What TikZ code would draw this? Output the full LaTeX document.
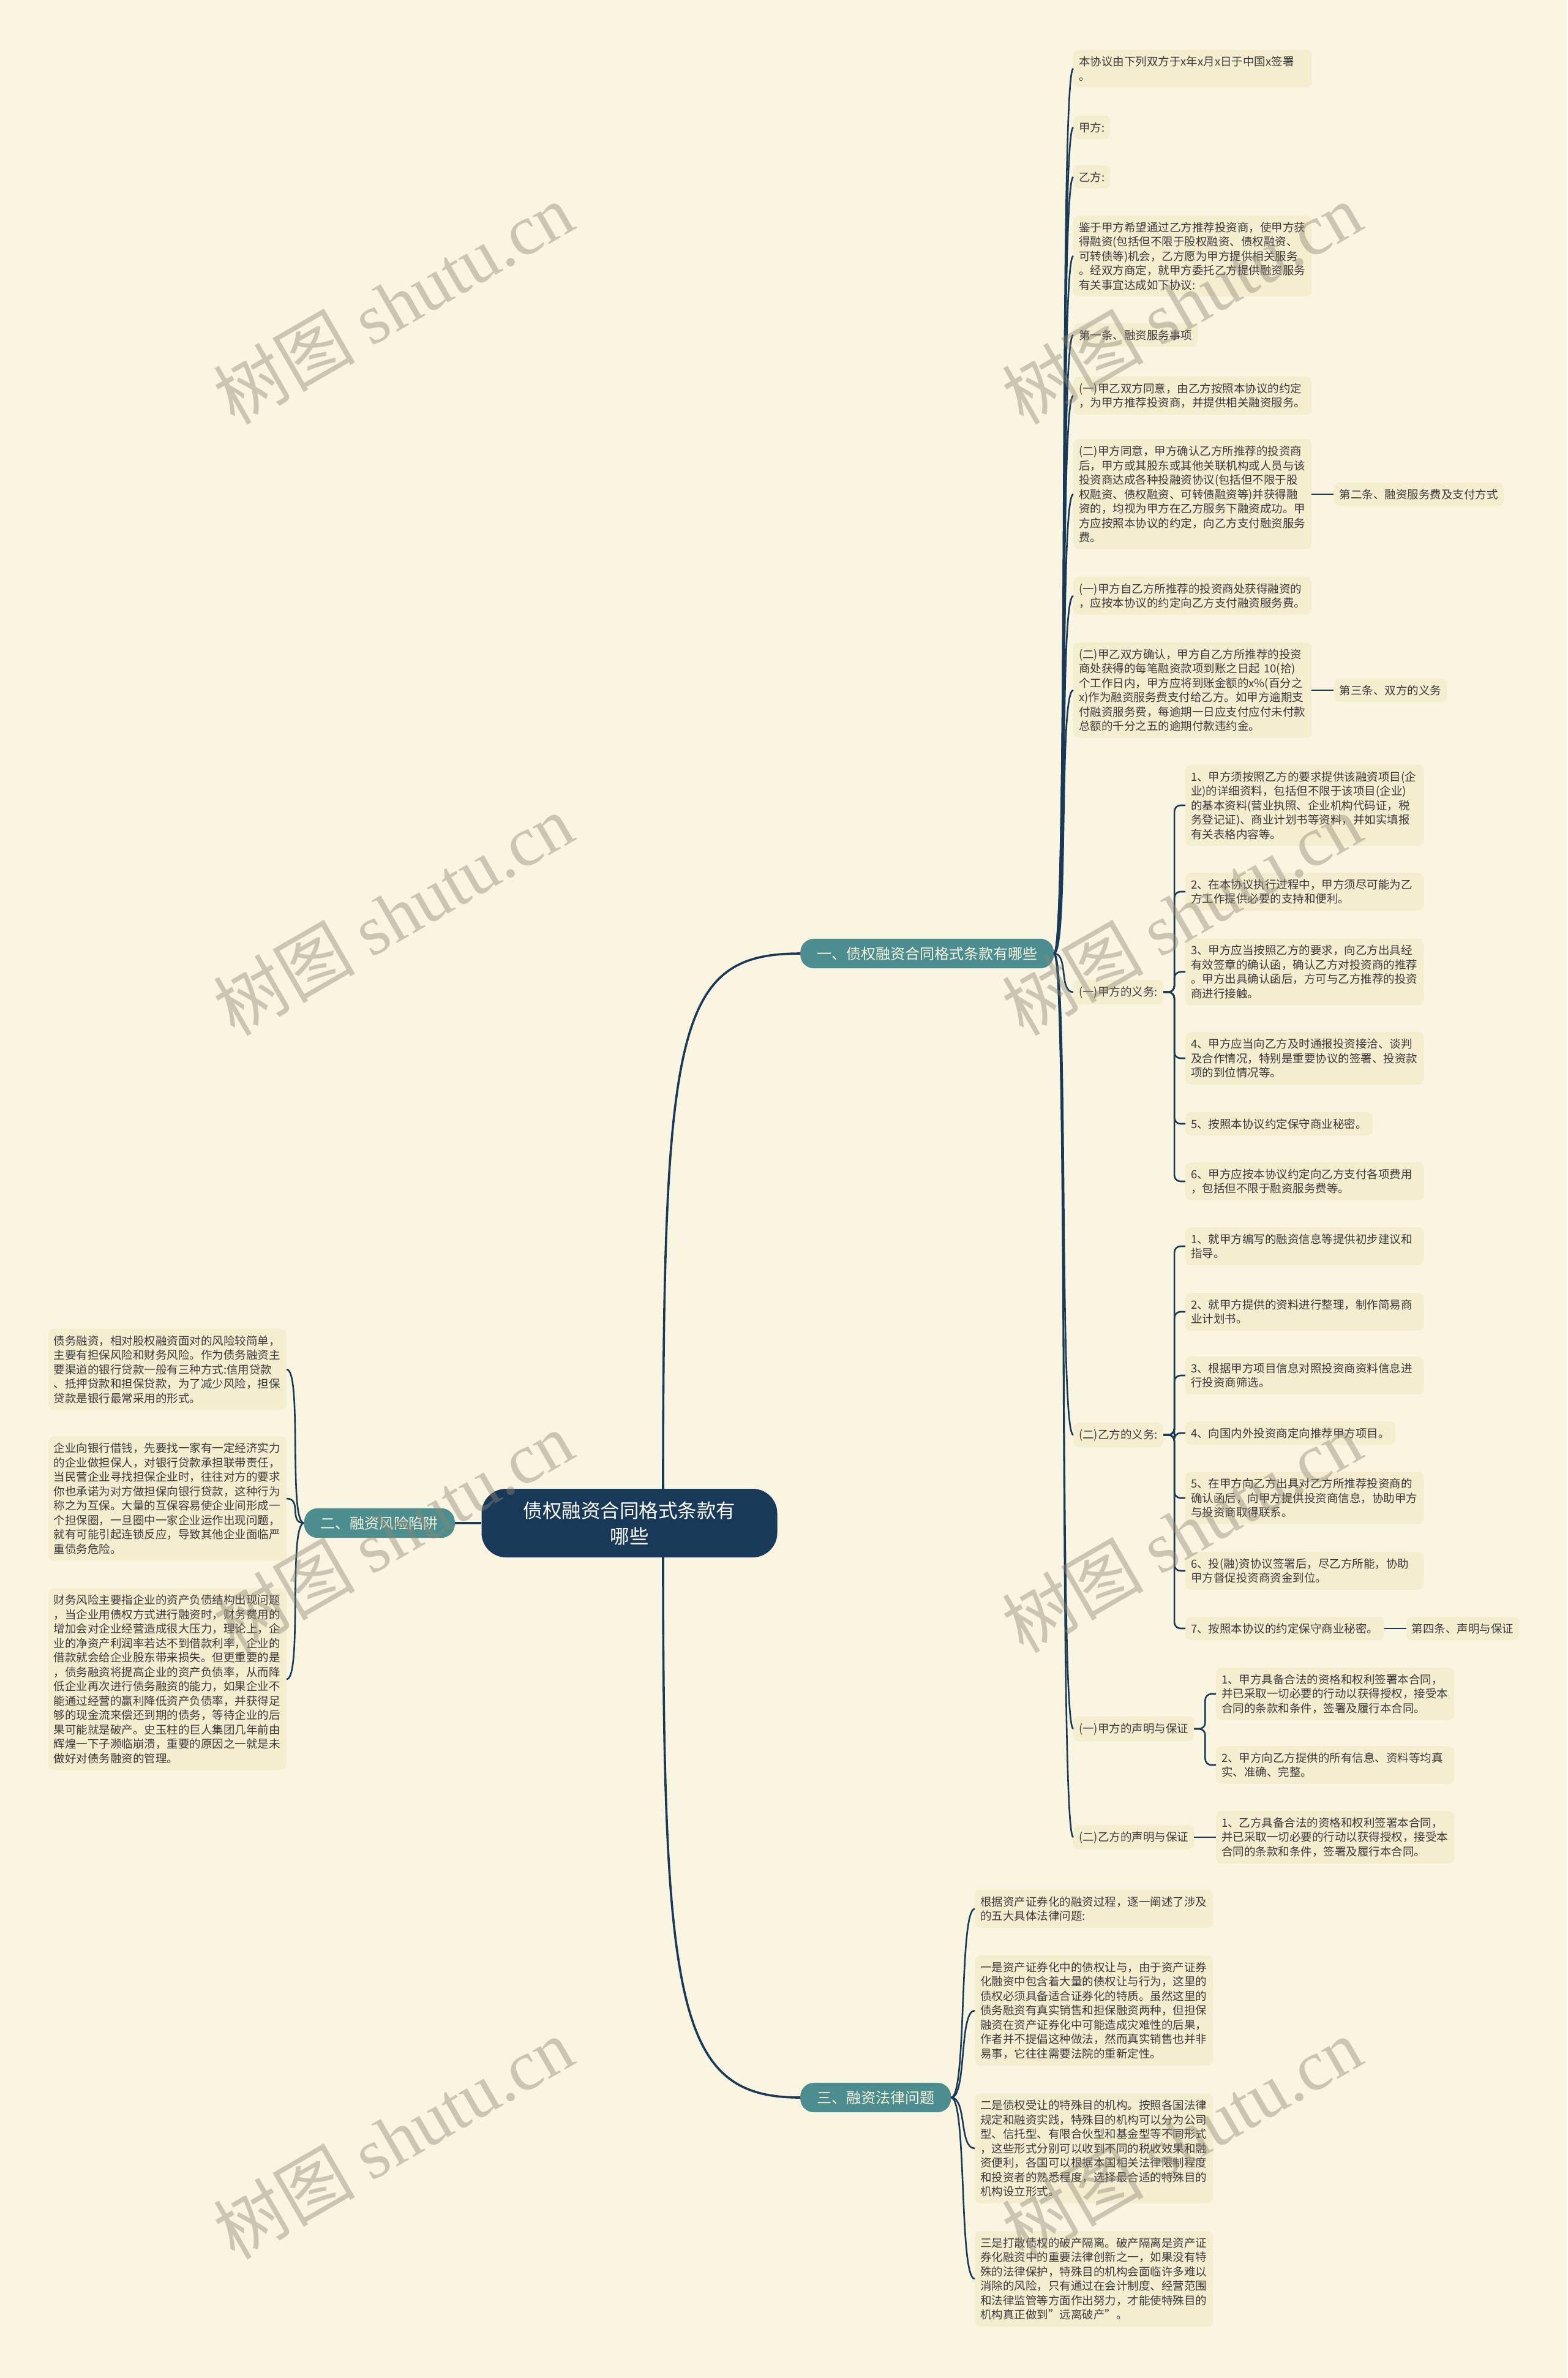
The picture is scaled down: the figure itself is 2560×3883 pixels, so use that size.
\documentclass[tikz,border=0pt]{standalone}
\usepackage{fontspec}
\setmainfont{Noto Sans CJK SC}
\newfontfamily\wmlatin{Liberation Serif}
\usepackage{xcolor}
\usetikzlibrary{positioning}

\definecolor{bgc}{RGB}{250,245,224}
\definecolor{leafbg}{RGB}{244,237,208}
\definecolor{inkc}{RGB}{58,58,58}
\definecolor{navyc}{RGB}{24,57,88}
\definecolor{tealc}{RGB}{76,142,143}
\definecolor{creamc}{RGB}{247,242,220}
\definecolor{wmc}{RGB}{140,135,120}

\newcommand{\leaffont}{\fontsize{18.5}{23.5}\selectfont}
\newcommand{\topicfont}{\fontsize{24}{30}\selectfont}
\newcommand{\rootfont}{\fontsize{31.5}{42}\selectfont}

\begin{document}
\begin{tikzpicture}[x=1pt,y=-1pt,
    every node/.style={font=\leaffont},
    leaf/.style={rectangle,rounded corners=9pt,fill=leafbg,text=inkc,inner xsep=9pt,inner ysep=10.5pt,anchor=west},
    wide/.style={leaf,text width=371pt,align=left},
    topic/.style={rectangle,rounded corners=22pt,fill=tealc,text=creamc,font=\topicfont,inner xsep=27pt,inner ysep=13pt},
    link/.style={draw=navyc,line width=2.6pt},
    trunk/.style={draw=navyc,line width=3.6pt},
    wmark/.style={rotate=30,text=wmc,text opacity=0.42,font=\fontsize{116}{116}\selectfont}]
    \useasboundingbox (0,0) rectangle (2560,3883);
    \fill[bgc] (0,0) rectangle (2560,3883);

    % centre and main topics
    \node[fill=navyc,text=white,rounded corners=40pt,font=\rootfont,align=center,minimum width=483pt,minimum height=112pt] (root) at (1028,2487) {债权融资合同格式条款有\\哪些};
    \node[topic,anchor=west] (br1) at (1307,1557) {一、债权融资合同格式条款有哪些};
    \node[topic,anchor=east] (br2) at (743,2487) {二、融资风险陷阱};
    \node[topic,anchor=west] (br3) at (1307,3425) {三、融资法律问题};

    % branch one
    \node[wide] (a1) at (1753,112) {本协议由下列双方于x年x月x日于中国x签署\\。};
    \node[leaf] (a2) at (1753,208) {甲方:};
    \node[leaf] (a3) at (1753,289) {乙方:};
    \node[wide] (a4) at (1753,418) {鉴于甲方希望通过乙方推荐投资商，使甲方获\\得融资(包括但不限于股权融资、债权融资、\\可转债等)机会，乙方愿为甲方提供相关服务\\。经双方商定，就甲方委托乙方提供融资服务\\有关事宜达成如下协议:};
    \node[leaf] (a5) at (1753,547) {第一条、融资服务事项};
    \node[wide] (a6) at (1753,646) {(一)甲乙双方同意，由乙方按照本协议的约定\\，为甲方推荐投资商，并提供相关融资服务。};
    \node[wide] (a7) at (1753,807) {(二)甲方同意，甲方确认乙方所推荐的投资商\\后，甲方或其股东或其他关联机构或人员与该\\投资商达成各种投融资协议(包括但不限于股\\权融资、债权融资、可转债融资等)并获得融\\资的，均视为甲方在乙方服务下融资成功。甲\\方应按照本协议的约定，向乙方支付融资服务\\费。};
    \node[leaf,right=36pt of a7] (s2) {第二条、融资服务费及支付方式};
    \node[wide] (a8) at (1753,973) {(一)甲方自乙方所推荐的投资商处获得融资的\\，应按本协议的约定向乙方支付融资服务费。};
    \node[wide] (a9) at (1753,1127) {(二)甲乙双方确认，甲方自乙方所推荐的投资\\商处获得的每笔融资款项到账之日起 10(拾)\\个工作日内，甲方应将到账金额的x\%(百分之\\x)作为融资服务费支付给乙方。如甲方逾期支\\付融资服务费，每逾期一日应支付应付未付款\\总额的千分之五的逾期付款违约金。};
    \node[leaf,right=36pt of a9] (s3) {第三条、双方的义务};

    \node[leaf] (a10) at (1753,1620) {(一)甲方的义务:};
    \node[wide] (b1) at (1936,1315) {1、甲方须按照乙方的要求提供该融资项目(企\\业)的详细资料，包括但不限于该项目(企业)\\的基本资料(营业执照、企业机构代码证，税\\务登记证)、商业计划书等资料，并如实填报\\有关表格内容等。};
    \node[wide] (b2) at (1936,1456) {2、在本协议执行过程中，甲方须尽可能为乙\\方工作提供必要的支持和便利。};
    \node[wide] (b3) at (1936,1587) {3、甲方应当按照乙方的要求，向乙方出具经\\有效签章的确认函，确认乙方对投资商的推荐\\。甲方出具确认函后，方可与乙方推荐的投资\\商进行接触。};
    \node[wide] (b4) at (1936,1728) {4、甲方应当向乙方及时通报投资接洽、谈判\\及合作情况，特别是重要协议的签署、投资款\\项的到位情况等。};
    \node[leaf] (b5) at (1936,1835) {5、按照本协议约定保守商业秘密。};
    \node[wide] (b6) at (1936,1929) {6、甲方应按本协议约定向乙方支付各项费用\\，包括但不限于融资服务费等。};

    \node[leaf] (a11) at (1753,2343) {(二)乙方的义务:};
    \node[wide] (c1) at (1936,2035) {1、就甲方编写的融资信息等提供初步建议和\\指导。};
    \node[wide] (c2) at (1936,2142) {2、就甲方提供的资料进行整理，制作简易商\\业计划书。};
    \node[wide] (c3) at (1936,2246) {3、根据甲方项目信息对照投资商资料信息进\\行投资商筛选。};
    \node[leaf] (c4) at (1936,2340) {4、向国内外投资商定向推荐甲方项目。};
    \node[wide] (c5) at (1936,2446) {5、在甲方向乙方出具对乙方所推荐投资商的\\确认函后，向甲方提供投资商信息，协助甲方\\与投资商取得联系。};
    \node[wide] (c6) at (1936,2565) {6、投(融)资协议签署后，尽乙方所能，协助\\甲方督促投资商资金到位。};
    \node[leaf] (c7) at (1936,2659) {7、按照本协议的约定保守商业秘密。};
    \node[leaf,right=36pt of c7] (s4) {第四条、声明与保证};

    \node[leaf] (a12) at (1753,2823) {(一)甲方的声明与保证};
    \node[wide] (e1) at (1986,2766) {1、甲方具备合法的资格和权利签署本合同，\\并已采取一切必要的行动以获得授权，接受本\\合同的条款和条件，签署及履行本合同。};
    \node[wide] (e2) at (1986,2882) {2、甲方向乙方提供的所有信息、资料等均真\\实、准确、完整。};
    \node[leaf] (a13) at (1753,3000) {(二)乙方的声明与保证};
    \node[wide] (f1) at (1986,3000) {1、乙方具备合法的资格和权利签署本合同，\\并已采取一切必要的行动以获得授权，接受本\\合同的条款和条件，签署及履行本合同。};

    % branch two
    \node[wide,anchor=east] (h1) at (468,2236) {债务融资，相对股权融资面对的风险较简单，\\主要有担保风险和财务风险。作为债务融资主\\要渠道的银行贷款一般有三种方式:信用贷款\\、抵押贷款和担保贷款，为了减少风险，担保\\贷款是银行最常采用的形式。};
    \node[wide,anchor=east] (h2) at (468,2447) {企业向银行借钱，先要找一家有一定经济实力\\的企业做担保人，对银行贷款承担联带责任，\\当民营企业寻找担保企业时，往往对方的要求\\你也承诺为对方做担保向银行贷款，这种行为\\称之为互保。大量的互保容易使企业间形成一\\个担保圈，一旦圈中一家企业运作出现问题，\\就有可能引起连锁反应，导致其他企业面临严\\重债务危险。};
    \node[wide,anchor=east] (h3) at (468,2742) {财务风险主要指企业的资产负债结构出现问题\\，当企业用债权方式进行融资时，财务费用的\\增加会对企业经营造成很大压力，理论上，企\\业的净资产利润率若达不到借款利率，企业的\\借款就会给企业股东带来损失。但更重要的是\\，债务融资将提高企业的资产负债率，从而降\\低企业再次进行债务融资的能力，如果企业不\\能通过经营的赢利降低资产负债率，并获得足\\够的现金流来偿还到期的债务，等待企业的后\\果可能就是破产。史玉柱的巨人集团几年前由\\辉煌一下子濒临崩溃，重要的原因之一就是未\\做好对债务融资的管理。};

    % branch three
    \node[wide] (g1) at (1592,3117) {根据资产证券化的融资过程，逐一阐述了涉及\\的五大具体法律问题:};
    \node[wide] (g2) at (1592,3283) {一是资产证券化中的债权让与，由于资产证券\\化融资中包含着大量的债权让与行为，这里的\\债权必须具备适合证券化的特质。虽然这里的\\债务融资有真实销售和担保融资两种，但担保\\融资在资产证券化中可能造成灾难性的后果，\\作者并不提倡这种做法，然而真实销售也并非\\易事，它往往需要法院的重新定性。};
    \node[wide] (g3) at (1592,3508) {二是债权受让的特殊目的机构。按照各国法律\\规定和融资实践，特殊目的机构可以分为公司\\型、信托型、有限合伙型和基金型等不同形式\\，这些形式分别可以收到不同的税收效果和融\\资便利，各国可以根据本国相关法律限制程度\\和投资者的熟悉程度，选择最合适的特殊目的\\机构设立形式。};
    \node[wide] (g4) at (1592,3721) {三是打散债权的破产隔离。破产隔离是资产证\\券化融资中的重要法律创新之一，如果没有特\\殊的法律保护，特殊目的机构会面临许多难以\\消除的风险，只有通过在会计制度、经营范围\\和法律监管等方面作出努力，才能使特殊目的\\机构真正做到"远离破产"。};

    % connectors
    \draw[trunk] ([xshift=55pt]root.north) .. controls +(0,-760) and +(-200,0) .. (br1.west);
    \draw[trunk] ([xshift=55pt]root.south) .. controls +(0,740) and +(-200,0) .. (br3.west);
    \draw[trunk] (root.west) -- (br2.east);
    \foreach \c in {a1,a2,a3,a4,a5,a6,a7,a8,a9,a10,a11,a12,a13}
        \draw[link] (br1.east) .. controls +(24,0) and +(-24,0) .. (\c.west);
    \foreach \c in {g1,g2,g3,g4}
        \draw[link] (br3.east) .. controls +(26,0) and +(-26,0) .. (\c.west);
    \foreach \c in {h1,h2,h3}
        \draw[link] (br2.west) .. controls +(-26,0) and +(26,0) .. (\c.east);
    \foreach \c in {b1,b2,b3,b4,b5,b6}
        \draw[link,rounded corners=10pt] (a10.east) -- ++(18,0) |- (\c.west);
    \foreach \c in {c1,c2,c3,c4,c5,c6,c7}
        \draw[link,rounded corners=10pt] (a11.east) -- ++(18,0) |- (\c.west);
    \foreach \c in {e1,e2}
        \draw[link,rounded corners=10pt] (a12.east) -- ++(18,0) |- (\c.west);
    \draw[link] (a13.east) -- (f1.west);
    \draw[link] (a7.east) -- (s2.west);
    \draw[link] (a9.east) -- (s3.west);
    \draw[link] (c7.east) -- (s4.west);

    % watermark
    \foreach \wx in {642,1930}
        \foreach \wy in {495,1493,2501,3491}
            \node[wmark] (wm) at (\wx,\wy) {树图 {\wmlatin shutu.cn}};
\end{tikzpicture}
\end{document}
